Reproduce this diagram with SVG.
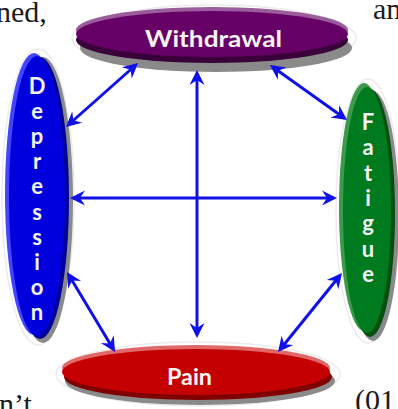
<svg xmlns="http://www.w3.org/2000/svg" width="398" height="409" viewBox="0 0 398 409">
<style>
.bg{font-family:"Liberation Serif","Times New Roman",serif;font-size:30px;fill:#1a1a1a}
.lbl{font-family:Lato,"Noto Sans",sans-serif;font-weight:bold;font-size:22px;fill:#f4f4f4;text-anchor:middle}
.shadow{fill:#8a8a8a}
.glow{fill:none;stroke:#ececec;stroke-width:1.5}
.conn{fill:none;stroke:#1010e8;stroke-width:3;marker-start:url(#ah);marker-end:url(#ah)}
</style>
<defs>
<marker id="ah" markerUnits="userSpaceOnUse" markerWidth="22" markerHeight="22" viewBox="-15 -11 22 22" refX="0" refY="0" orient="auto-start-reverse">
<path d="M3,0 L-12,-7.5 L-7,0 L-12,7.5 Z" fill="#1010e8"/>
</marker>
</defs>
<rect width="398" height="409" fill="#ffffff"/>
<g id="page-text">
<text class="bg" x="-4" y="22">ned,</text>
<text class="bg" x="373" y="19">an</text>
<text class="bg" x="-1" y="414">n’t</text>
<text class="bg" x="355" y="410">(01</text>
</g>
<g id="node-withdrawal">
<ellipse class="glow" cx="214" cy="38" rx="142" ry="33"/>
<ellipse class="shadow" cx="216" cy="48" rx="136" ry="24"/>
<ellipse cx="212" cy="30" rx="136" ry="23" fill="#9a5c9a"/>
<ellipse cx="212" cy="40" rx="136" ry="23" fill="#3a003a"/>
<ellipse cx="212" cy="34" rx="136" ry="23" fill="#660066"/>
<text class="lbl" x="213.5" y="47" textLength="137" lengthAdjust="spacingAndGlyphs">Withdrawal</text>
</g>
<g id="node-depression">
<ellipse class="glow" cx="38" cy="197" rx="36" ry="148"/>
<ellipse class="shadow" cx="43" cy="200" rx="30" ry="143"/>
<ellipse cx="34" cy="194" rx="29" ry="141" fill="#4545ff"/>
<ellipse cx="40" cy="198" rx="29" ry="141" fill="#00009a"/>
<ellipse cx="37" cy="196" rx="28" ry="140" fill="#0000dc"/>
<g class="lbl">
<text x="37" y="93.5">D</text>
<text x="37" y="118.7">e</text>
<text x="37" y="143.9">p</text>
<text x="37" y="169.1">r</text>
<text x="37" y="194.3">e</text>
<text x="37" y="219.5">s</text>
<text x="37" y="244.7">s</text>
<text x="37" y="269.9">i</text>
<text x="37" y="295.1">o</text>
<text x="37" y="320.3">n</text>
</g>
</g>
<g id="node-fatigue">
<ellipse class="glow" cx="368" cy="211" rx="32" ry="132"/>
<ellipse class="shadow" cx="373" cy="216" rx="26" ry="125"/>
<ellipse cx="364" cy="207" rx="25" ry="124" fill="#3d9a4d"/>
<ellipse cx="370" cy="213" rx="25" ry="124" fill="#005010"/>
<ellipse cx="367" cy="210" rx="24" ry="123" fill="#007a1e"/>
<g class="lbl">
<text x="368" y="130">F</text>
<text x="368" y="155.3">a</text>
<text x="368" y="180.6">t</text>
<text x="368" y="205.9">i</text>
<text x="368" y="231.2">g</text>
<text x="368" y="256.5">u</text>
<text x="368" y="281.8">e</text>
</g>
</g>
<g id="node-pain">
<ellipse class="glow" cx="198" cy="374" rx="142" ry="32"/>
<ellipse class="shadow" cx="200" cy="381" rx="135" ry="24"/>
<ellipse cx="196" cy="368" rx="134" ry="23" fill="#e06868"/>
<ellipse cx="198" cy="377" rx="134" ry="23" fill="#800000"/>
<ellipse cx="196" cy="372" rx="134" ry="23" fill="#c40000"/>
<text class="lbl" x="189.5" y="385" textLength="45" lengthAdjust="spacingAndGlyphs">Pain</text>
</g>
<g id="connectors">
<path class="conn" d="M197,73 L197,335"/>
<path class="conn" d="M73,198 L334,198"/>
<path class="conn" d="M135.8,65 L68.2,125"/>
<path class="conn" d="M272.4,66.7 L344.6,118.3"/>
<path class="conn" d="M68.5,274.6 L113.5,349.4"/>
<path class="conn" d="M340.1,275.3 L279.9,349.7"/>
</g>
</svg>
